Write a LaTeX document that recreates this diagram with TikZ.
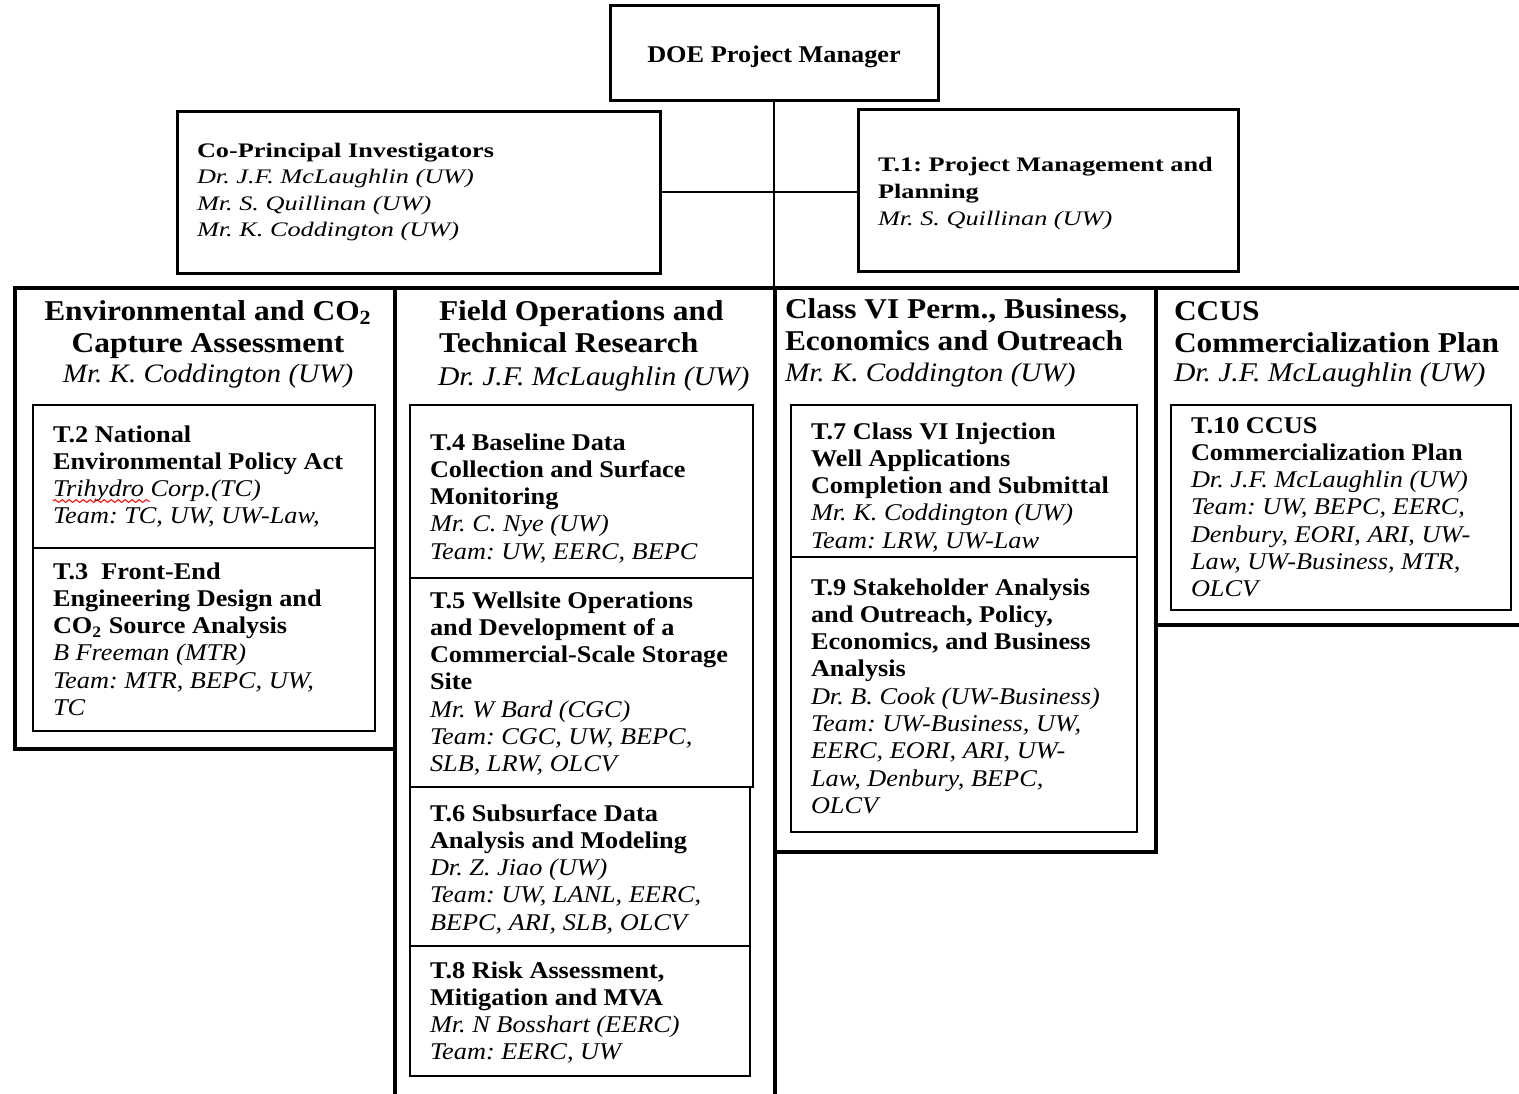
\documentclass[tikz,border=0pt]{standalone}
\usepackage{fontspec}
\usepackage{graphicx}
\setmainfont{Liberation Serif}[FakeStretch=1.095]
\usetikzlibrary{fit,decorations.pathmorphing}
\frenchspacing
\newcommand\fIn{\fontsize{12pt}{13.65pt}\selectfont}
\newcommand\fHd{\fontsize{14.35pt}{16.4pt}\selectfont\bfseries}
\newcommand\fHi{\fontsize{13.3pt}{15pt}\selectfont\itshape}
\newcommand\fHj{\fontsize{13.5pt}{15pt}\selectfont\itshape}
\newcommand\tbf[1]{\textbf{#1}}
\newcommand\tif[1]{\textit{#1}}
\newcommand\blkL[1]{\begin{tabular}[t]{@{}l@{}}#1\end{tabular}}
\newcommand\blkC[1]{\begin{tabular}[t]{@{}c@{}}#1\end{tabular}}
\tikzset{
  colbox/.style={draw, line width=2.2pt, inner sep=0pt},
  inbox/.style={draw, line width=1.3pt, inner sep=0pt},
  topbox/.style={draw, line width=1.5pt, inner sep=0pt},
  conn/.style={line width=1.2pt},
  txt/.style={anchor=base west, inner sep=0pt, outer sep=0pt, execute at begin node=\frenchspacing},
  txtc/.style={anchor=base, inner sep=0pt, outer sep=0pt, execute at begin node=\frenchspacing}
}
\begin{document}
\begin{tikzpicture}[x=0.5pt,y=-0.5pt]
\useasboundingbox[fill=white] (0,0) rectangle (1519,1093);
% top boxes
\node[topbox, fit={(610,5) (938,100)}] (doe) {};
\node[topbox, fit={(177,111) (660,273)}] (copi) {};
\node[topbox, fit={(858,109) (1238,271)}] (t1) {};
\node[txtc] (doetxt) at (774,62) {\fIn\bfseries DOE Project Manager};
\node[txt] (copitxt) at (197,157) {\scalebox{1}[0.86]{\fontsize{12pt}{15.5pt}\selectfont\blkL{\tbf{Co-Principal Investigators}\\ \tif{Dr. J.F. McLaughlin (UW)}\\ \tif{Mr. S. Quillinan (UW)}\\ \tif{Mr. K. Coddington (UW)}}}};
\node[txt] (t1txt) at (878,171) {\scalebox{1}[0.86]{\fontsize{12pt}{15.9pt}\selectfont\blkL{\tbf{T.1: Project Management and}\\ \tbf{Planning}\\ \tif{Mr. S. Quillinan (UW)}}}};
% column boxes
\node[colbox, fit={(15,288) (395,749)}] (col1) {};
\node[colbox, fit={(395,288) (775,1120)}] (col2) {};
\node[colbox, fit={(775,288) (1156,852)}] (col3) {};
\node[colbox, fit={(1156,288) (1535,625)}] (col4) {};
\coordinate (junction) at (774,288);
% connectors
\draw[conn] (doe.south) -- (junction);
\draw[conn] (copi.east) -- (copi.east -| t1.west);
% column headings
\node[txtc] (h1) at (208,320) {\fHd\blkC{Environmental and CO\textsubscript{2}\\ Capture Assessment}};
\node[txtc] (h1p) at (208,382) {\fHi Mr. K. Coddington (UW)};
\node[txt] (h2) at (439,320) {\fHd\blkL{Field Operations and\\ Technical Research}};
\node[txt] (h2p) at (438,385) {\fHj Dr. J.F. McLaughlin (UW)};
\node[txt] (h3) at (785,318) {\fHd\blkL{Class VI Perm., Business,\\ Economics and Outreach}};
\node[txt] (h3p) at (785,381) {\fHi Mr. K. Coddington (UW)};
\node[txt] (h4) at (1174,320) {\fHd\blkL{CCUS\\ Commercialization Plan}};
\node[txt] (h4p) at (1174,381) {\fHj Dr. J.F. McLaughlin (UW)};
% inner boxes column 1
\node[inbox, fit={(33,405) (375,548)}] (b2) {};
\node[inbox, fit={(33,548) (375,731)}] (b3) {};
\node[txt] (t2) at (53,442) {\fIn\blkL{\tbf{T.2 National}\\ \tbf{Environmental Policy Act}\\ \tif{Trihydro Corp.(TC)}\\ \tif{Team: TC, UW, UW-Law,}}};
\draw[red, line width=0.5pt, decorate, decoration={snake, amplitude=0.7pt, segment length=3.5pt}] (53,501) -- (150,501);
\node[txt] (t3) at (53,579) {\fIn\blkL{\tbf{T.3\ \ Front-End}\\ \tbf{Engineering Design and}\\ \tbf{CO\textsubscript{2} Source Analysis}\\ \tif{B Freeman (MTR)}\\ \tif{Team: MTR, BEPC, UW,}\\ \tif{TC}}};
% inner boxes column 2
\node[inbox, fit={(410,405) (753,578)}] (b4) {};
\node[inbox, fit={(410,578) (753,787)}] (b5) {};
\node[inbox, fit={(410,787) (750,946)}] (b6) {};
\node[inbox, fit={(410,946) (750,1076)}] (b8) {};
\node[txt] (t4) at (430,450) {\fIn\blkL{\tbf{T.4 Baseline Data}\\ \tbf{Collection and Surface}\\ \tbf{Monitoring}\\ \tif{Mr. C. Nye (UW)}\\ \tif{Team: UW, EERC, BEPC}}};
\node[txt] (t5) at (430,608) {\fIn\blkL{\tbf{T.5 Wellsite Operations}\\ \tbf{and Development of a}\\ \tbf{Commercial-Scale Storage}\\ \tbf{Site}\\ \tif{Mr. W Bard (CGC)}\\ \tif{Team: CGC, UW, BEPC,}\\ \tif{SLB, LRW, OLCV}}};
\node[txt] (t6) at (430,821) {\fIn\blkL{\tbf{T.6 Subsurface Data}\\ \tbf{Analysis and Modeling}\\ \tif{Dr. Z. Jiao (UW)}\\ \tif{Team: UW, LANL, EERC,}\\ \tif{BEPC, ARI, SLB, OLCV}}};
\node[txt] (t8) at (430,978) {\fIn\blkL{\tbf{T.8 Risk Assessment,}\\ \tbf{Mitigation and MVA}\\ \tif{Mr. N Bosshart (EERC)}\\ \tif{Team: EERC, UW}}};
% inner boxes column 3
\node[inbox, fit={(791,405) (1137,557)}] (b7) {};
\node[inbox, fit={(791,557) (1137,832)}] (b9) {};
\node[txt] (t7) at (811,439) {\fIn\blkL{\tbf{T.7 Class VI Injection}\\ \tbf{Well Applications}\\ \tbf{Completion and Submittal}\\ \tif{Mr. K. Coddington (UW)}\\ \tif{Team: LRW, UW-Law}}};
\node[txt] (t9) at (811,595) {\fIn\blkL{\tbf{T.9 Stakeholder Analysis}\\ \tbf{and Outreach, Policy,}\\ \tbf{Economics, and Business}\\ \tbf{Analysis}\\ \tif{Dr. B. Cook (UW-Business)}\\ \tif{Team: UW-Business, UW,}\\ \tif{EERC, EORI, ARI, UW-}\\ \tif{Law, Denbury, BEPC,}\\ \tif{OLCV}}};
% inner box column 4
\node[inbox, fit={(1171,405) (1511,610)}] (b10) {};
\node[txt] (t10) at (1191,433) {\fIn\blkL{\tbf{T.10 CCUS}\\ \tbf{Commercialization Plan}\\ \tif{Dr. J.F. McLaughlin (UW)}\\ \tif{Team: UW, BEPC, EERC,}\\ \tif{Denbury, EORI, ARI, UW-}\\ \tif{Law, UW-Business, MTR,}\\ \tif{OLCV}}};
\end{tikzpicture}
\end{document}
